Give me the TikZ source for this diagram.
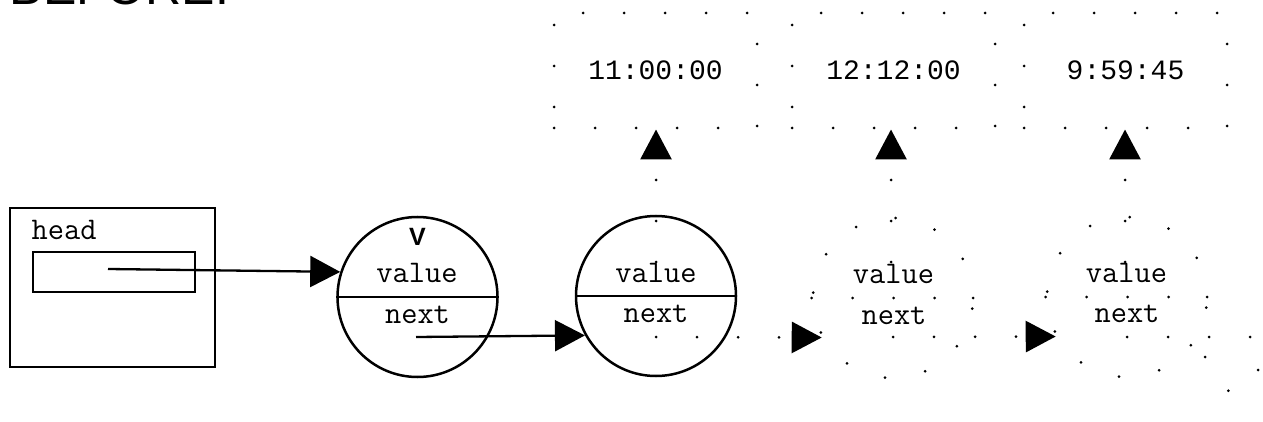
\documentclass[tikz,border=0pt]{standalone}
\usepackage{fontspec}
\usetikzlibrary{arrows.meta}
\newfontfamily\titlefont{Liberation Sans}
\newfontfamily\timefont{Liberation Mono}
\begin{document}
\begin{tikzpicture}[x=1pt,y=-1pt,
  solidline/.style={line width=2.3pt},
  dotline/.style={line width=3pt, dash pattern=on 0pt off 41pt, line cap=round},
  tip/.style={-{Triangle[length=30pt,width=31pt]}},
  cell/.style={circle, minimum size=160pt, inner sep=0pt},
  mono/.style={font=\fontsize{31.5}{32}\selectfont\ttfamily, inner sep=0pt, anchor=base},
  timebox/.style={rectangle, minimum width=203pt, minimum height=115pt, inner sep=0pt,
     font=\fontsize{28}{30}\selectfont\timefont}]
\useasboundingbox (0,0) rectangle (1263,422);
% title
\node[anchor=base west, inner sep=0pt, font=\fontsize{50}{52}\selectfont\titlefont] (title) at (9.5,5) {BEFORE:};
% head box
\node[draw, solidline, rectangle, minimum width=205pt, minimum height=159pt, inner sep=0pt] (hbox) at (112.5,287.5) {};
\node[draw, solidline, rectangle, minimum width=162pt, minimum height=40pt, inner sep=0pt] (hin) at (114,272) {};
\node[mono, anchor=base west] (htext) at (31.5,240) {head};
\coordinate (hp) at (108,269);
% cells
\node[cell, draw, line width=2.5pt] (c1) at (417.5,297) {};
\node[cell, draw, line width=2.5pt] (c2) at (656,296) {};
\node[cell, draw, dotline] (c3) at (893,298) {};
\node[cell, draw, dotline] (c4) at (1127,297) {};
\draw[solidline] (c1.west) -- (c1.east);
\draw[solidline] (c2.west) -- (c2.east);
\draw[dotline] (c3.west) -- (c3.east);
\draw[dotline] (c4.west) -- (c4.east);
\node[inner sep=0pt, anchor=base, font=\fontsize{25}{26}\selectfont\titlefont\bfseries] (v1) at (417.5,245) {V};
\node[mono] (val1) at (417,282) {value};
\node[mono] (nxt1) at (417.5,323) {next};
\node[mono] (val2) at (656,282) {value};
\node[mono] (nxt2) at (656,322) {next};
\node[mono] (val3) at (893.5,283) {value};
\node[mono] (nxt3) at (894,324) {next};
\node[mono] (val4) at (1126.5,282) {value};
\node[mono] (nxt4) at (1127,322) {next};
% time boxes
\node[timebox, draw, dotline] (t1) at (655.5,70.5) {11:00:00};
\node[timebox, draw, dotline] (t2) at (893.5,70.5) {12:12:00};
\node[timebox, draw, dotline] (t3) at (1125.5,70.5) {9:59:45};
% pointers
\coordinate (p1) at (416,337);
\coordinate (p2) at (656,337);
\coordinate (p3) at (893,337);
\coordinate (p4) at (1127,337);
\coordinate (u2) at (656,262);
\coordinate (u3) at (891,262);
\coordinate (u4) at (1125,262);
\coordinate (nullA) at (1258,337);
\coordinate (nullB) at (1258,380);
\coordinate (nullC) at (1205,357);
\coordinate (nullD) at (1250,422);
\draw[solidline, tip] (hp) -- (c1.162);
\draw[solidline, tip] (p1) -- (c2.209);
\draw[dotline, tip] (p2) -- (c3.209);
\draw[dotline, tip] (p3) -- (c4.209);
\draw[dotline, tip] (u2) -- (u2 |- t1.south);
\draw[dotline, tip] (u3) -- (u3 |- t2.south);
\draw[dotline, tip] (u4) -- (u4 |- t3.south);
\draw[dotline] (p4) -- (nullA) -- (nullB);
\draw[dotline] (nullC) -- (nullD);
\end{tikzpicture}
\end{document}
